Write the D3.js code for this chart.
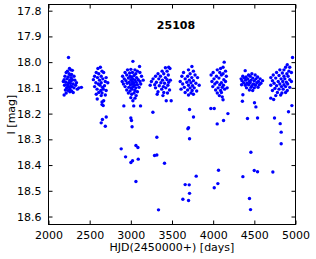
<!DOCTYPE html>
<html><head><meta charset="utf-8">
<script src="https://cdn.jsdelivr.net/npm/d3@7"></script>
<style>html,body{margin:0;padding:0;background:#fff;}svg{display:block;}</style>
</head><body>
<svg id="c" width="316" height="259"></svg>
<script>
const title = "25108";
const xLabel = "HJD(2450000+) [days]";
const yLabel = "I [mag]";
const xTicks = [2000, 2500, 3000, 3500, 4000, 4500, 5000];
const yTicks = [17.8, 17.9, 18.0, 18.1, 18.2, 18.3, 18.4, 18.5, 18.6];
const xDomain = [2000, 5000];
const yDomain = [17.776, 18.631];

const season1 = [[2243,17.982],[2255,18.025],[2230,18.035],[2270,18.03],[2290,18.032],[2215,18.04],[2250,18.045],[2262,18.05],[2280,18.048],[2200,18.055],[2238,18.058],[2275,18.06],[2310,18.055],[2190,18.068],[2225,18.065],[2258,18.07],[2290,18.068],[2320,18.07],[2180,18.075],[2210,18.078],[2245,18.08],[2265,18.082],[2300,18.085],[2340,18.08],[2195,18.09],[2232,18.088],[2270,18.092],[2285,18.095],[2330,18.09],[2220,18.1],[2250,18.098],[2262,18.104],[2310,18.1],[2370,18.1],[2205,18.108],[2240,18.11],[2280,18.112],[2350,18.105],[2215,18.12],[2260,18.115],[2300,18.118],[2190,18.128],[2235,18.095],[2275,18.073],[2400,18.098]];
const season2 = [[2600,18.025],[2630,18.02],[2650,18.035],[2580,18.04],[2610,18.045],[2670,18.04],[2560,18.055],[2595,18.06],[2640,18.055],[2700,18.06],[2545,18.068],[2620,18.07],[2660,18.065],[2690,18.075],[2575,18.08],[2605,18.085],[2640,18.08],[2720,18.08],[2560,18.095],[2625,18.09],[2655,18.098],[2680,18.092],[2590,18.105],[2635,18.11],[2665,18.105],[2700,18.11],[2610,18.118],[2650,18.12],[2580,18.125],[2640,18.13],[2690,18.128],[2592,18.143],[2650,18.155],[2670,18.15],[2650,18.165],[2665,18.169],[2655,18.223],[2640,18.236],[2701,18.213],[2690,18.249]];
const season3 = [[3025,17.997],[3106,18.017],[2960,18.03],[3000,18.028],[3050,18.03],[3080,18.035],[2930,18.04],[2985,18.042],[3020,18.04],[3060,18.045],[3110,18.04],[2900,18.055],[2950,18.05],[2990,18.055],[3010,18.058],[3040,18.052],[3070,18.06],[3130,18.055],[2920,18.065],[2970,18.062],[3000,18.068],[3025,18.065],[3050,18.07],[3090,18.068],[2895,18.075],[2940,18.072],[2980,18.078],[3015,18.075],[3035,18.08],[3065,18.078],[3110,18.075],[3150,18.07],[2910,18.085],[2955,18.082],[2995,18.088],[3020,18.085],[3045,18.09],[3080,18.088],[3120,18.085],[2930,18.095],[2975,18.098],[3005,18.1],[3030,18.095],[3060,18.1],[3100,18.098],[2950,18.108],[2990,18.112],[3015,18.105],[3050,18.11],[3080,18.115],[2970,18.12],[3010,18.125],[3040,18.12],[3065,18.13],[3000,18.138],[3050,18.14],[3025,18.15],[2915,18.17],[3035,18.17],[3118,18.17],[3000,18.217],[3008,18.227],[3015,18.251],[2883,18.337],[2936,18.368],[3001,18.39],[3021,18.383],[3062,18.324],[3086,18.332],[3090,18.377],[3062,18.464]];
const season4 = [[3420,18.022],[3460,18.02],[3475,18.025],[3380,18.035],[3440,18.035],[3330,18.045],[3400,18.045],[3455,18.05],[3300,18.055],[3360,18.055],[3420,18.06],[3270,18.065],[3340,18.065],[3385,18.07],[3440,18.068],[3480,18.07],[3250,18.075],[3310,18.078],[3365,18.08],[3410,18.082],[3460,18.078],[3235,18.09],[3290,18.088],[3345,18.092],[3395,18.095],[3450,18.09],[3300,18.1],[3375,18.105],[3425,18.1],[3470,18.108],[3330,18.115],[3400,18.118],[3445,18.12],[3320,18.125],[3390,18.13],[3430,18.15],[3490,18.15],[3268,18.195],[3316,18.292],[3288,18.363],[3316,18.361],[3409,18.393],[3336,18.574]];
const season5 = [[3742,18.017],[3700,18.03],[3760,18.035],[3640,18.04],[3720,18.045],[3780,18.05],[3620,18.055],[3690,18.055],[3740,18.06],[3810,18.06],[3660,18.065],[3710,18.07],[3760,18.072],[3600,18.075],[3680,18.078],[3730,18.08],[3790,18.082],[3630,18.085],[3700,18.09],[3750,18.092],[3830,18.09],[3650,18.098],[3720,18.1],[3770,18.1],[3610,18.105],[3690,18.108],[3745,18.11],[3800,18.112],[3660,18.118],[3730,18.12],[3700,18.128],[3760,18.125],[3713,18.184],[3761,18.213],[3701,18.255],[3693,18.259],[3713,18.298],[3794,18.443],[3660,18.476],[3709,18.477],[3713,18.51],[3632,18.533],[3701,18.538]];
const season6 = [[4134,18.0],[4120,18.02],[4090,18.025],[4050,18.03],[4150,18.035],[4000,18.04],[4080,18.04],[4120,18.045],[3975,18.05],[4040,18.055],[4100,18.05],[4160,18.055],[4010,18.065],[4070,18.062],[4130,18.068],[3985,18.075],[4045,18.078],[4100,18.08],[4150,18.075],[4020,18.085],[4080,18.088],[4125,18.09],[3995,18.095],[4060,18.1],[4110,18.098],[4170,18.1],[4030,18.108],[4090,18.11],[4140,18.105],[4050,18.12],[4100,18.118],[4075,18.13],[4110,18.135],[4120,18.146],[3972,18.18],[4013,18.18],[4179,18.2],[4126,18.227],[4049,18.24],[4065,18.42],[4057,18.472],[4013,18.488]];
const season7 = [[4389,18.033],[4470,18.045],[4430,18.05],[4510,18.05],[4360,18.055],[4400,18.058],[4450,18.055],[4540,18.058],[4340,18.065],[4380,18.062],[4420,18.065],[4480,18.062],[4520,18.065],[4570,18.065],[4350,18.072],[4395,18.07],[4440,18.075],[4460,18.07],[4500,18.072],[4550,18.075],[4600,18.072],[4370,18.08],[4410,18.082],[4450,18.08],[4490,18.085],[4530,18.08],[4580,18.082],[4345,18.088],[4390,18.09],[4430,18.088],[4470,18.092],[4515,18.09],[4560,18.088],[4405,18.1],[4460,18.098],[4500,18.1],[4545,18.098],[4440,18.108],[4480,18.11],[4361,18.127],[4355,18.152],[4502,18.158],[4519,18.174],[4417,18.219],[4539,18.217],[4458,18.35],[4361,18.445],[4499,18.421],[4539,18.426],[4441,18.53],[4454,18.573]];
const season8 = [[4964,17.982],[4900,18.01],[4880,18.02],[4930,18.02],[4810,18.03],[4860,18.03],[4920,18.035],[4770,18.04],[4840,18.042],[4895,18.045],[4950,18.04],[4730,18.05],[4800,18.052],[4860,18.055],[4910,18.055],[4700,18.06],[4760,18.062],[4825,18.065],[4870,18.065],[4930,18.068],[4720,18.072],[4790,18.075],[4845,18.075],[4890,18.078],[4950,18.075],[4740,18.082],[4810,18.085],[4860,18.088],[4905,18.085],[4700,18.09],[4770,18.092],[4830,18.095],[4880,18.095],[4930,18.098],[4750,18.102],[4800,18.105],[4850,18.105],[4900,18.11],[4720,18.11],[4780,18.118],[4835,18.12],[4880,18.118],[4760,18.13],[4820,18.128],[4700,18.14],[4735,18.145],[4915,18.193],[4956,18.169],[4745,18.217],[4814,18.239],[4826,18.272],[4826,18.317],[4725,18.427]];

const points = [].concat(season1, season2, season3, season4, season5, season6, season7, season8);

const svg = d3.select("#c");
const L = 48.5, R = 295.5, T = 4.5, B = 224.5;
const x = d3.scaleLinear().domain(xDomain).range([L, R]);
const y = d3.scaleLinear().domain(yDomain).range([T, B]);
const font = "'DejaVu Sans', sans-serif";

svg.append("g").selectAll("circle").data(points).join("circle")
  .attr("cx", d => x(d[0])).attr("cy", d => y(d[1])).attr("r", 1.7)
  .attr("fill", "#0000ff");

function styleAxis(g) {
  g.select(".domain").remove();
  g.selectAll("line").attr("stroke", "#000").attr("stroke-width", 1);
  g.selectAll("text").attr("font-family", font).attr("font-size", 11).attr("fill", "#000");
}
svg.append("g").attr("transform", `translate(0,${B})`)
  .call(d3.axisBottom(x).tickValues(xTicks).tickFormat(d3.format("d")).tickSizeInner(-4).tickSizeOuter(0).tickPadding(7))
  .call(styleAxis);
svg.append("g").attr("transform", `translate(0,${T})`)
  .call(d3.axisTop(x).tickValues(xTicks).tickFormat("").tickSizeInner(-4).tickSizeOuter(0))
  .call(styleAxis);
svg.append("g").attr("transform", `translate(${L},0)`)
  .call(d3.axisLeft(y).tickValues(yTicks).tickFormat(d3.format(".1f")).tickSizeInner(-4).tickSizeOuter(0).tickPadding(7))
  .call(styleAxis);
svg.append("g").attr("transform", `translate(${R},0)`)
  .call(d3.axisRight(y).tickValues(yTicks).tickFormat("").tickSizeInner(-4).tickSizeOuter(0))
  .call(styleAxis);

svg.append("rect").attr("x", L).attr("y", T).attr("width", R - L).attr("height", B - T)
  .attr("fill", "none").attr("stroke", "#000").attr("stroke-width", 1);

svg.append("text").attr("x", 176).attr("y", 29).attr("text-anchor", "middle")
  .attr("font-family", font).attr("font-size", 11).attr("font-weight", "bold").text(title);

svg.append("text").attr("x", (L + R) / 2).attr("y", 251).attr("text-anchor", "middle")
  .attr("font-family", font).attr("font-size", 11).text(xLabel);
svg.append("text").attr("transform", `translate(14.5,${(T + B) / 2}) rotate(-90)`).attr("text-anchor", "middle")
  .attr("font-family", font).attr("font-size", 11).text(yLabel);
</script>
</body></html>
